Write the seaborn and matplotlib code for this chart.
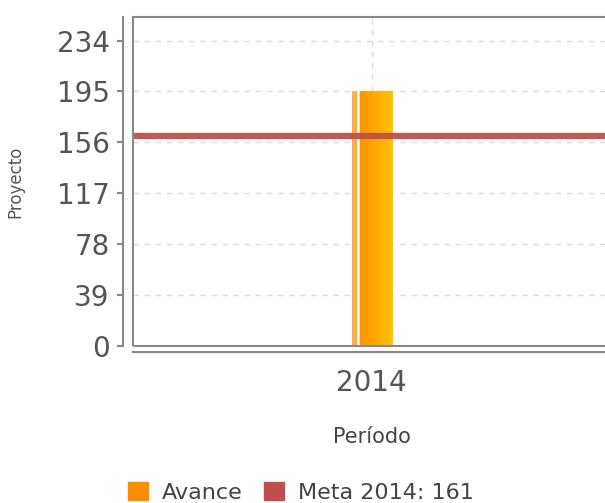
import numpy as np
import pandas as pd
import matplotlib
matplotlib.use('Agg')
import matplotlib.pyplot as plt
import seaborn as sns
from matplotlib.colors import LinearSegmentedColormap
from matplotlib.patches import Patch, Rectangle

# datos del gráfico
periodos = ['2014']
avance = [195]
meta = 161
meta_label = 'Meta 2014: 161'
y_ticks = [0, 39, 78, 117, 156, 195, 234]

df = pd.DataFrame({'Período': periodos, 'Proyecto': avance})

sns.set_style('white')
plt.rcParams['font.family'] = ['DejaVu Sans']

fig = plt.figure(figsize=(6.05, 5.03), dpi=100)
ax = fig.add_axes([133 / 605, 1 - 346 / 503, 482 / 605, 329 / 503])

sns.barplot(data=df, x='Período', y='Proyecto', color='#ff9900', width=0.083,
            ax=ax, zorder=3)

# degradado naranja dentro de la barra
bar = ax.patches[0]
bx, bw, bh = bar.get_x(), bar.get_width(), bar.get_height()
cmap = LinearSegmentedColormap.from_list('naranja', ['#ff8800', '#ffc400'])
grad = np.linspace(0, 1, 256).reshape(1, -1)
im = ax.imshow(grad, cmap=cmap, aspect='auto', extent=(bx, bx + bw, 0, bh), zorder=4)
im.set_clip_path(bar)
ax.add_patch(Rectangle((bx, 0), bw * 0.13, bh, color='#ffb04a', zorder=5, lw=0))
ax.plot([bx + bw * 0.16] * 2, [0, bh], color='white', lw=1.8, zorder=6)

# línea de meta
ax.axhline(meta, color='#c0504d', lw=4.5, alpha=0.95, zorder=7)

ax.set_xlim(-0.495, 0.505)
ax.set_ylim(0, 252)
ax.set_yticks(y_ticks)

ax.set_axisbelow(True)
ax.yaxis.grid(True, ls=(0, (4, 4)), color='#dddddd', lw=1)
ax.xaxis.grid(True, ls=(0, (4, 4)), color='#dddddd', lw=1)

for s in ['top', 'right']:
    ax.spines[s].set_visible(False)
ax.spines['left'].set_position(('outward', 7.2))
ax.spines['bottom'].set_position(('outward', 4.3))
for s in ['left', 'bottom']:
    ax.spines[s].set_color('#888888')
    ax.spines[s].set_linewidth(1.5)
ax.add_patch(Rectangle((0, 0), 1, 1, transform=ax.transAxes, fill=False,
                       ec='#888888', lw=1.5, clip_on=False, zorder=8))

ax.tick_params(axis='y', left=True, length=4.5, width=1.5, color='#888888',
               labelsize=20, labelcolor='#555555', pad=5)
ax.tick_params(axis='x', bottom=False, length=0, labelsize=20,
               labelcolor='#555555', pad=12)

ax.set_ylabel('Proyecto', fontsize=12, color='#555555')
ax.yaxis.set_label_coords(-0.226, 0.5)
ax.set_xlabel('Período', fontsize=15, color='#444444')
ax.xaxis.set_label_coords(0.495, -0.247)

handles = [Patch(color='#ff8c00', label='Avance'),
           Patch(color='#c0504d', label=meta_label)]
leg = fig.legend(handles=handles, ncol=2, loc='upper left',
                 bbox_to_anchor=(128 / 605, 1 - 482 / 503), frameon=False,
                 fontsize=16, handlelength=0.9, handleheight=0.9,
                 columnspacing=1.0, handletextpad=0.6, borderaxespad=0,
                 borderpad=0)
for t in leg.get_texts():
    t.set_color('#444444')

fig.savefig('out.png', dpi=100)
